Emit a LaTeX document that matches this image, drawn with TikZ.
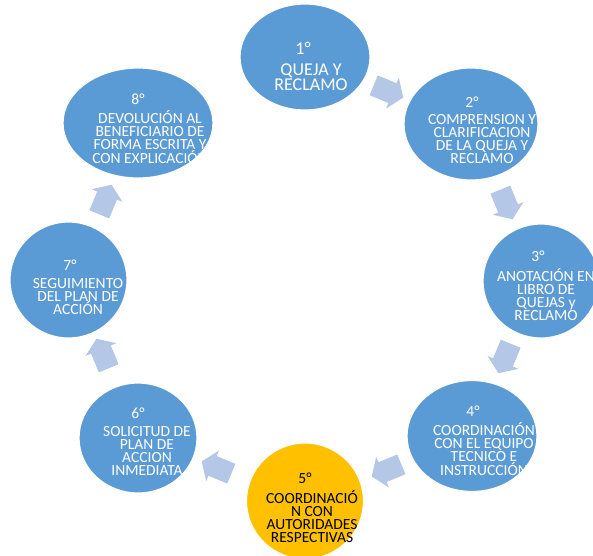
\documentclass[tikz,border=0pt]{standalone}
\usepackage{fontspec}
\setmainfont{Carlito}
\usetikzlibrary{shapes.geometric,shapes.arrows}
\definecolor{cblue}{HTML}{5B9BD5}
\definecolor{cgold}{HTML}{FFC000}
\definecolor{carrow}{HTML}{B4C7E7}
\tikzset{
  stage/.style={ellipse, fill=cblue, draw=white, line width=1.2pt, inner sep=0pt},
  stagegold/.style={stage, fill=cgold},
  stagetext/.style={align=center, text=white, inner sep=0pt,
    font=\fontsize{15.5}{13}\selectfont},
  cyclearrow/.style={single arrow, fill=carrow, draw=none, minimum height=32pt,
    minimum width=33pt, single arrow head extend=6pt, single arrow tip angle=110,
    inner xsep=0pt, inner ysep=10.5pt}
}
\begin{document}
\begin{tikzpicture}[x=1pt,y=-1pt]
\useasboundingbox (0,0) rectangle (593,555);
% stages
\node[stage, minimum width=130pt, minimum height=106pt] (c1) at (305,57) {};
\node[stage, minimum width=134pt, minimum height=112pt] (c2) at (471,124) {};
\node[stage, minimum width=116pt, minimum height=114pt] (c3) at (541,281) {};
\node[stage, minimum width=130pt, minimum height=111pt] (c4) at (472,436) {};
\node[stagegold, minimum width=117pt, minimum height=116pt] (c5) at (305,501) {};
\node[stage, minimum width=118pt, minimum height=110pt] (c6) at (138,438) {};
\node[stage, minimum width=117pt, minimum height=116pt] (c7) at (68.5,280) {};
\node[stage, minimum width=150pt, minimum height=110pt] (c8) at (138,123) {};
% texts
\node[stagetext, font=\fontsize{18}{15}\selectfont] (t1) at (311,66)
  {1°\hspace*{16pt}\\[6pt]QUEJA Y\\RECLAMO};
\node[stagetext] (t2) at (482,130)
  {2°\hspace*{20pt}\\[4pt]COMPRENSION Y\\CLARIFICACION\\DE LA QUEJA Y\\RECLAMO};
\node[stagetext] (t3) at (546,286)
  {3°\hspace*{16pt}\\[6pt]ANOTACIÓN EN\\LIBRO DE\\QUEJAS y\\RECLAMO};
\node[stagetext] (t4) at (484,441)
  {4°\hspace*{22pt}\\[6pt]COORDINACIÓN\\CON EL EQUIPO\\TECNICO E\\INSTRUCCIÓN};
\node[stagetext, text=black] (t5) at (312,507.5)
  {5°\hspace*{14pt}\\[6pt]COORDINACIÓ\\N CON\\AUTORIDADES\\RESPECTIVAS};
\node[stagetext] (t6) at (147,442)
  {6°\hspace*{18pt}\\[5pt]SOLICITUD DE\\PLAN DE\\ACCION\\INMEDIATA};
\node[stagetext] (t7) at (78,287)
  {7°\hspace*{16pt}\\[5pt]SEGUIMIENTO\\DEL PLAN DE\\ACCIÓN};
\node[stagetext] (t8) at (150,129)
  {8°\hspace*{24pt}\\[5pt]DEVOLUCIÓN AL\\BENEFICIARIO DE\\FORMA ESCRITA Y\\CON EXPLICACIÓN};
% arrows
\node[cyclearrow, rotate=-22.5] (a12) at (385,90) {};
\node[cyclearrow, rotate=-67.5] (a23) at (505,201) {};
\node[cyclearrow, rotate=-112.5] (a34) at (506,355) {};
\node[cyclearrow, rotate=-157.5] (a45) at (390,469) {};
\node[cyclearrow, rotate=157.5] (a56) at (220,469) {};
\node[cyclearrow, rotate=112.5] (a67) at (104,357) {};
\node[cyclearrow, rotate=67.5] (a78) at (104,203) {};
\end{tikzpicture}
\end{document}
